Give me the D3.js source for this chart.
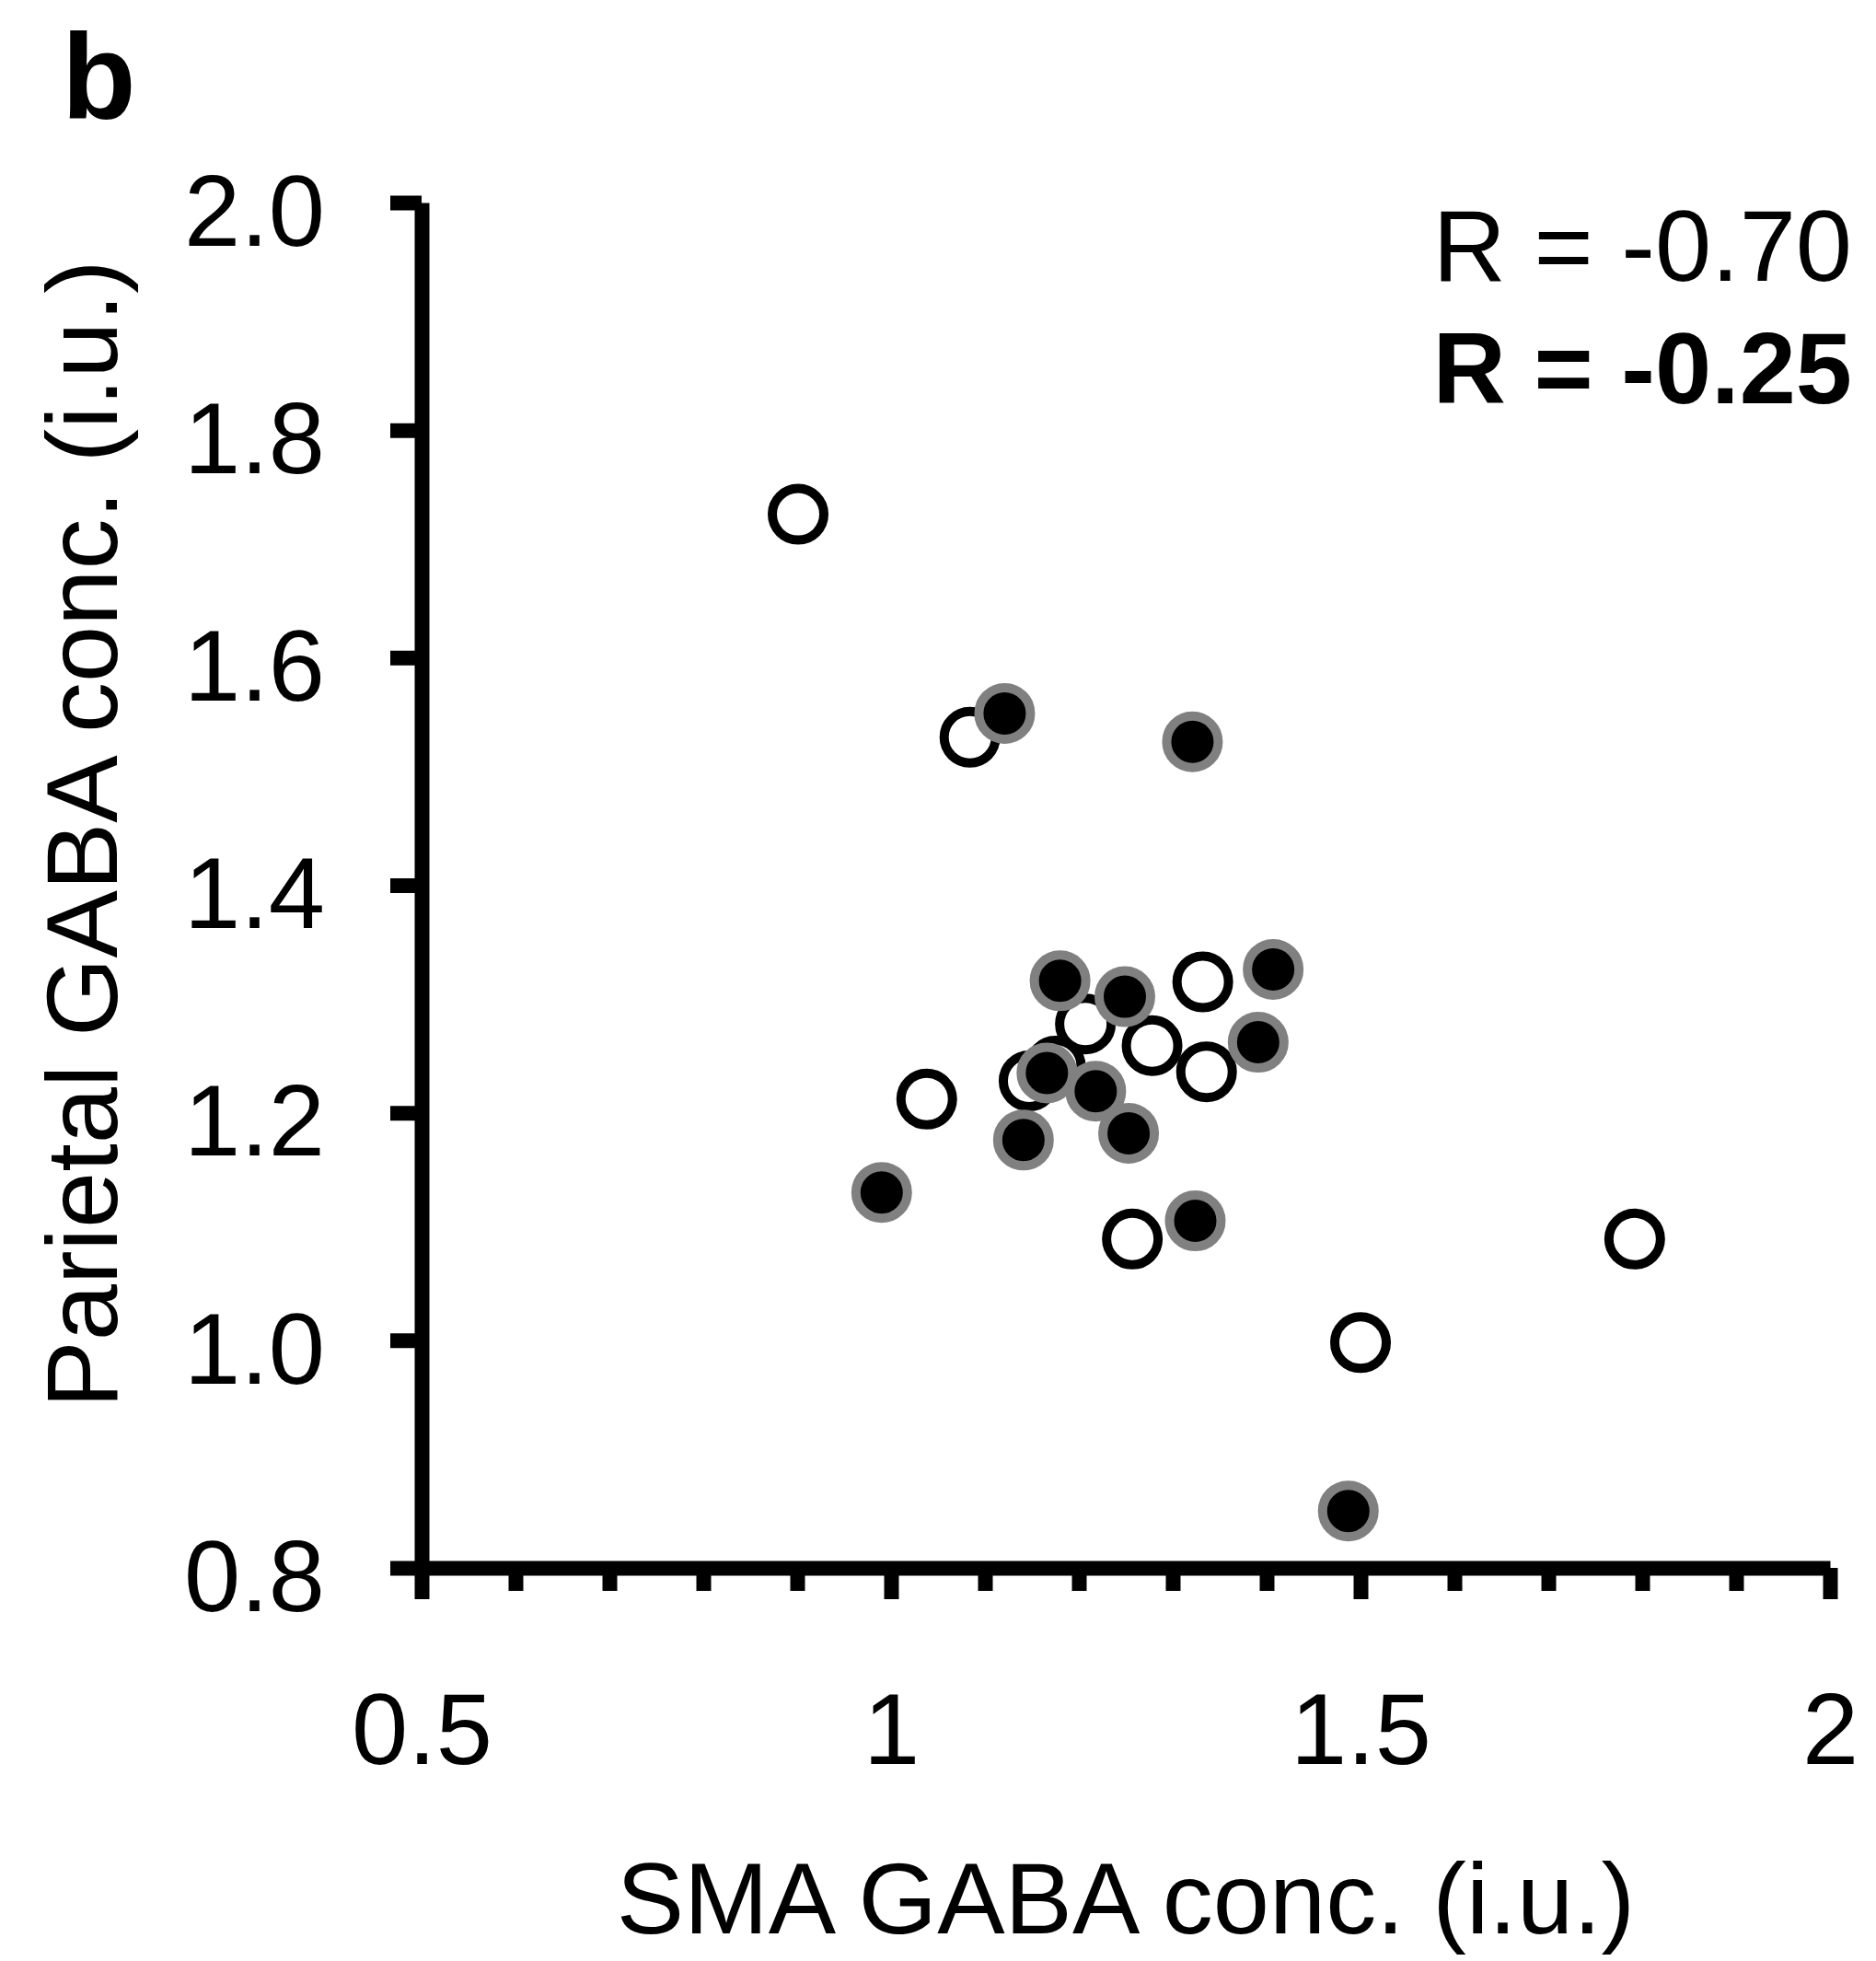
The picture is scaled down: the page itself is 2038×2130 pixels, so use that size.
<!DOCTYPE html>
<html>
<head>
<meta charset="utf-8">
<script src="https://cdn.jsdelivr.net/npm/d3@7"></script>
<style>
  body { margin: 0; background: #fff; }
  text { font-family: "Liberation Sans", Arial, sans-serif; fill: #000; }
</style>
</head>
<body>
<svg class="scatter"></svg>
<script>
// SMA vs parietal GABA, open = first session, filled = second session
var openX = [0.901, 1.084, 1.038, 1.147, 1.175, 1.207, 1.278, 1.332, 1.336, 1.257, 1.500, 1.792];
var openY = [1.726, 1.530, 1.212, 1.228, 1.241, 1.278, 1.259, 1.315, 1.236, 1.089, 0.998, 1.089];

var filledX = [1.121, 1.321, 1.180, 1.249, 1.407, 1.391, 1.166, 1.218, 1.141, 1.253, 0.990, 1.324, 1.487];
var filledY = [1.551, 1.526, 1.316, 1.302, 1.326, 1.262, 1.235, 1.219, 1.176, 1.182, 1.130, 1.105, 0.850];

var xMajor = [0.5, 1, 1.5, 2];
var xMinor = [0.6, 0.7, 0.8, 0.9, 1.1, 1.2, 1.3, 1.4, 1.6, 1.7, 1.8, 1.9];
var yTicks = [0.8, 1.0, 1.2, 1.4, 1.6, 1.8, 2.0];

var rLabels = ["R = -0.70", "R = -0.25"];

var drawScatter = function()
{
  var screen = {
    width: 2038,
    height: 2130
  }

  var margins = {
    left: 458,
    top: 220,
    right: 50,   // x axis ends at 1988
    bottom: 427  // x axis at 1703
  }

  var xScale = d3.scaleLinear()
                 .domain([0.5, 2])
                 .range([margins.left, screen.width - margins.right]);

  var yScale = d3.scaleLinear()
                 .domain([0.8, 2.0])
                 .range([screen.height - margins.bottom, margins.top]);

  var svg = d3.select(".scatter")
              .attr("width", screen.width)
              .attr("height", screen.height)

  var fontSize = 110;
  var axisWidth = 16;

  //y-axis
  var yAxis = d3.axisLeft(yScale)
                .tickValues(yTicks)
                .tickFormat(d3.format(".1f"))
                .tickSize(34)
                .tickSizeOuter(0)
                .tickPadding(71);

  var gy = svg.append("g")
     .classed("yAxis", true)
     .attr("transform", "translate(" + margins.left + ",0)")
     .call(yAxis);

  //x-axis, minor ticks first then the major ones
  var xMinorAxis = d3.axisBottom(xScale)
                     .tickValues(xMinor)
                     .tickFormat("")
                     .tickSize(25)
                     .tickSizeOuter(0);

  var gxm = svg.append("g")
     .classed("xMinor", true)
     .attr("transform", "translate(0," + yScale(0.8) + ")")
     .call(xMinorAxis);
  gxm.select(".domain").remove();

  var xAxis = d3.axisBottom(xScale)
                .tickValues(xMajor)
                .tickFormat(d3.format("~g"))
                .tickSize(34)
                .tickSizeOuter(0)
                .tickPadding(101);

  var gx = svg.append("g")
     .classed("xAxis", true)
     .attr("transform", "translate(0," + yScale(0.8) + ")")
     .call(xAxis);

  svg.selectAll(".yAxis path, .yAxis line, .xAxis path, .xAxis line, .xMinor line")
     .attr("stroke", "#000")
     .attr("stroke-width", axisWidth);

  svg.selectAll(".yAxis text, .xAxis text")
     .attr("font-size", fontSize)
     .attr("font-family", "Liberation Sans, Arial, sans-serif");

  gy.selectAll("text").attr("dy", "0.42em");

  //open circles
  svg.append("g")
     .classed("open", true)
     .selectAll("circle")
     .data(openX)
     .enter()
     .append("circle")
     .attr("cx", function(d) {return xScale(d);})
     .attr("cy", function(d, i) {return yScale(openY[i]);})
     .attr("r", 28)
     .attr("fill", "#fff")
     .attr("stroke", "#000")
     .attr("stroke-width", 10);

  //filled circles with grey rim
  svg.append("g")
     .classed("filled", true)
     .selectAll("circle")
     .data(filledX)
     .enter()
     .append("circle")
     .attr("cx", function(d) {return xScale(d);})
     .attr("cy", function(d, i) {return yScale(filledY[i]);})
     .attr("r", 28)
     .attr("fill", "#000")
     .attr("stroke", "#808080")
     .attr("stroke-width", 10);

  //correlation labels
  svg.append("g")
     .classed("rText", true)
     .selectAll("text")
     .data(rLabels)
     .enter()
     .append("text")
     .attr("x", 2012)
     .attr("y", function(d, i) {return 305 + i * 133;})
     .attr("text-anchor", "end")
     .attr("font-size", fontSize)
     .attr("font-weight", function(d, i) {return i == 1 ? "bold" : "normal";})
     .text(function(d) {return d;});

  //panel letter
  svg.append("text")
     .attr("x", 67)
     .attr("y", 129)
     .attr("font-size", 132)
     .attr("font-weight", "bold")
     .text("b");

  //axis titles
  svg.append("text")
     .attr("transform", "translate(" + ((xScale(0.5) + xScale(2)) / 2) + ",2100)")
     .attr("text-anchor", "middle")
     .attr("font-size", fontSize)
     .text("SMA GABA conc. (i.u.)");

  svg.append("text")
     .attr("transform", "translate(127,906) rotate(-90)")
     .attr("text-anchor", "middle")
     .attr("font-size", fontSize)
     .text("Parietal GABA conc. (i.u.)");
}

drawScatter();
</script>
</body>
</html>
